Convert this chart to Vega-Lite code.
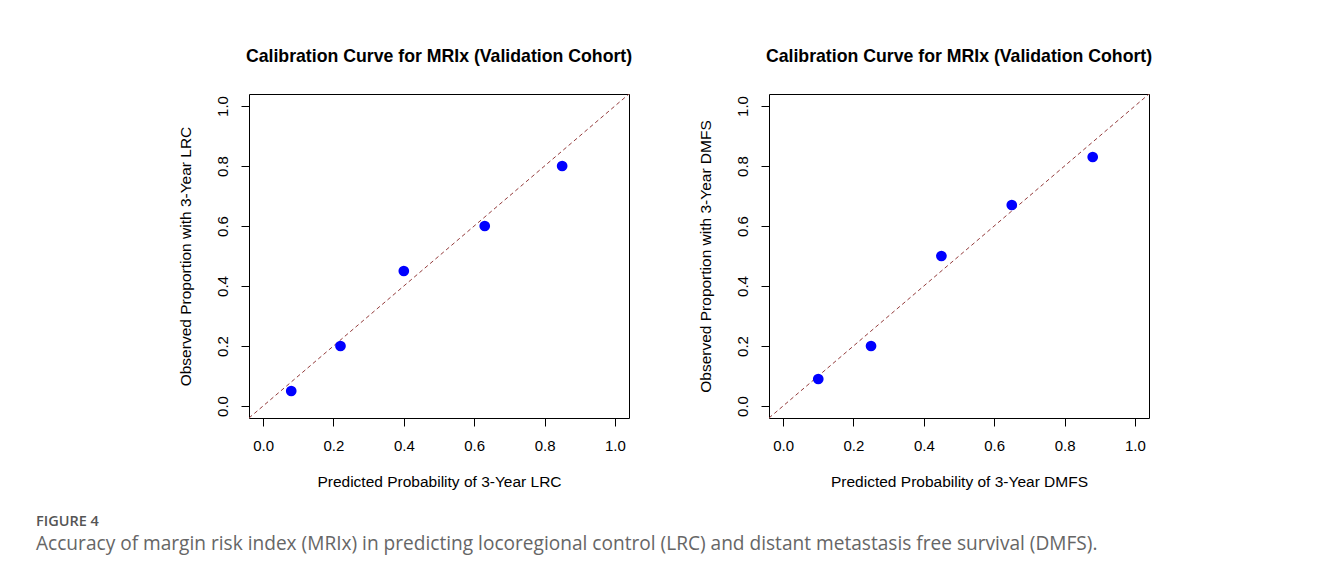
{
  "$schema": "https://vega.github.io/schema/vega-lite/v6.json",
  "background": "white",
  "padding": {"left": 36, "top": 47, "right": 5, "bottom": 5},
  "datasets": {
    "lrc": [
      {"predicted": 0.08, "observed": 0.05},
      {"predicted": 0.22, "observed": 0.20},
      {"predicted": 0.40, "observed": 0.45},
      {"predicted": 0.63, "observed": 0.60},
      {"predicted": 0.85, "observed": 0.80}
    ],
    "dmfs": [
      {"predicted": 0.10, "observed": 0.09},
      {"predicted": 0.25, "observed": 0.20},
      {"predicted": 0.45, "observed": 0.50},
      {"predicted": 0.65, "observed": 0.67},
      {"predicted": 0.88, "observed": 0.83}
    ],
    "diag": [
      {"predicted": -0.04, "observed": -0.04, "predicted2": 1.04, "observed2": 1.04}
    ]
  },
  "title": {
    "text": "FIGURE 4",
    "subtitle": "Accuracy of margin risk index (MRIx) in predicting locoregional control (LRC) and distant metastasis free survival (DMFS).",
    "orient": "bottom",
    "anchor": "start",
    "frame": "group",
    "dx": -213,
    "offset": 25,
    "baseline": "top",
    "font": "Open Sans",
    "fontSize": 14.5,
    "fontWeight": 600,
    "color": "#555555",
    "subtitleFont": "Open Sans",
    "subtitleFontSize": 19.1,
    "subtitleFontWeight": "normal",
    "subtitleColor": "#666666",
    "subtitlePadding": 5
  },
  "spacing": 140,
  "bounds": "flush",
  "config": {
    "view": {"stroke": "black", "strokeWidth": 1},
    "font": "Liberation Sans",
    "axis": {
      "domain": false,
      "grid": false,
      "ticks": true,
      "tickColor": "black",
      "tickSize": 8,
      "tickWidth": 1,
      "labelFont": "Liberation Sans",
      "labelFontSize": 15,
      "labelColor": "black",
      "titleFont": "Liberation Sans",
      "titleFontSize": 15.5,
      "titleFontWeight": "normal",
      "titleColor": "black"
    },
    "axisX": {"labelPadding": 12, "titlePadding": 21},
    "axisY": {"labelAngle": -90, "labelAlign": "center", "labelBaseline": "bottom", "labelPadding": 11, "titlePadding": 22},
    "title": {"font": "Liberation Sans", "fontSize": 17.7, "fontWeight": "bold", "color": "black", "offset": 28, "anchor": "middle"}
  },
  "hconcat": [
    {
      "width": 380,
      "height": 324,
      "title": "Calibration Curve for MRIx (Validation Cohort)",
      "layer": [
        {
          "data": {"name": "diag"},
          "mark": {"type": "rule", "color": "#943c3c", "strokeWidth": 1, "strokeDash": [4, 3], "clip": true},
          "encoding": {
            "x": {"field": "predicted", "type": "quantitative", "scale": {"domain": [-0.04, 1.04], "nice": false, "zero": false}, "title": "Predicted Probability of 3-Year LRC", "axis": {"values": [0, 0.2, 0.4, 0.6, 0.8, 1.0], "format": ".1f"}},
            "y": {"field": "observed", "type": "quantitative", "scale": {"domain": [-0.04, 1.04], "nice": false, "zero": false}, "title": "Observed Proportion with 3-Year LRC", "axis": {"values": [0, 0.2, 0.4, 0.6, 0.8, 1.0], "format": ".1f"}},
            "x2": {"field": "predicted2"},
            "y2": {"field": "observed2"}
          }
        },
        {
          "data": {"name": "lrc"},
          "mark": {"type": "circle", "size": 115, "color": "#0000ff", "opacity": 1},
          "encoding": {
            "x": {"field": "predicted", "type": "quantitative", "title": "Predicted Probability of 3-Year LRC", "axis": {"values": [0, 0.2, 0.4, 0.6, 0.8, 1.0], "format": ".1f"}},
            "y": {"field": "observed", "type": "quantitative", "title": "Observed Proportion with 3-Year LRC", "axis": {"values": [0, 0.2, 0.4, 0.6, 0.8, 1.0], "format": ".1f"}}
          }
        }
      ]
    },
    {
      "width": 380,
      "height": 324,
      "title": "Calibration Curve for MRIx (Validation Cohort)",
      "layer": [
        {
          "data": {"name": "diag"},
          "mark": {"type": "rule", "color": "#943c3c", "strokeWidth": 1, "strokeDash": [4, 3], "clip": true},
          "encoding": {
            "x": {"field": "predicted", "type": "quantitative", "scale": {"domain": [-0.04, 1.04], "nice": false, "zero": false}, "title": "Predicted Probability of 3-Year DMFS", "axis": {"values": [0, 0.2, 0.4, 0.6, 0.8, 1.0], "format": ".1f"}},
            "y": {"field": "observed", "type": "quantitative", "scale": {"domain": [-0.04, 1.04], "nice": false, "zero": false}, "title": "Observed Proportion with 3-Year DMFS", "axis": {"values": [0, 0.2, 0.4, 0.6, 0.8, 1.0], "format": ".1f"}},
            "x2": {"field": "predicted2"},
            "y2": {"field": "observed2"}
          }
        },
        {
          "data": {"name": "dmfs"},
          "mark": {"type": "circle", "size": 115, "color": "#0000ff", "opacity": 1},
          "encoding": {
            "x": {"field": "predicted", "type": "quantitative", "title": "Predicted Probability of 3-Year DMFS", "axis": {"values": [0, 0.2, 0.4, 0.6, 0.8, 1.0], "format": ".1f"}},
            "y": {"field": "observed", "type": "quantitative", "title": "Observed Proportion with 3-Year DMFS", "axis": {"values": [0, 0.2, 0.4, 0.6, 0.8, 1.0], "format": ".1f"}}
          }
        }
      ]
    }
  ]
}
